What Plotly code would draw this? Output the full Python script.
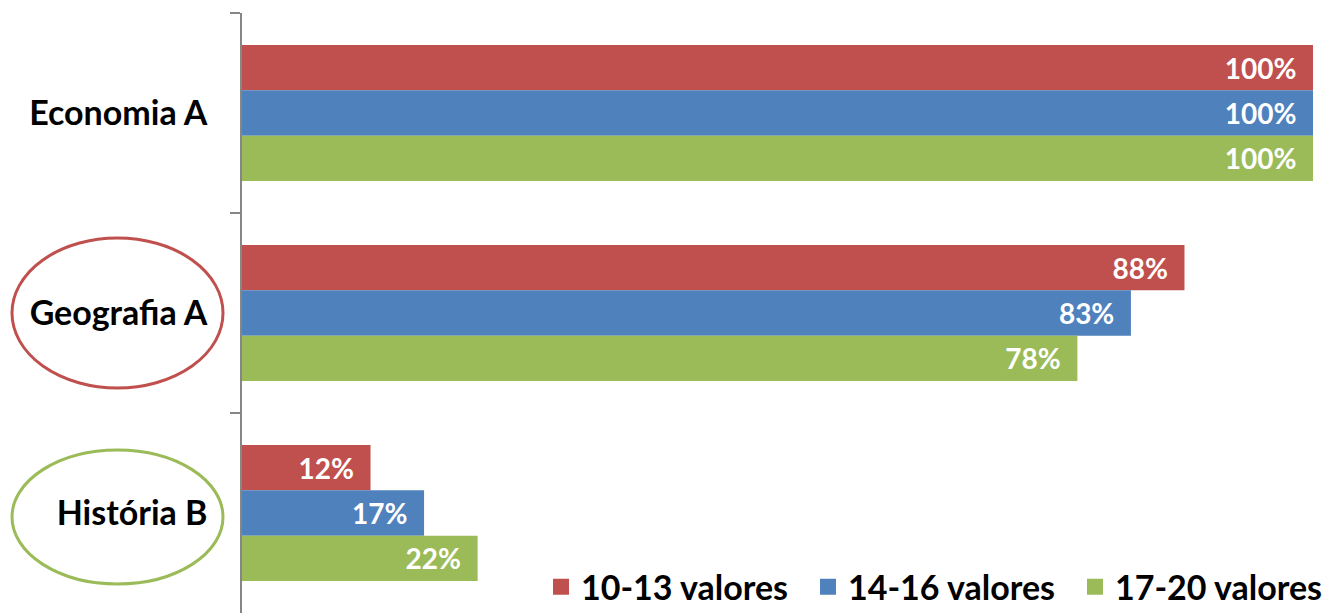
import plotly.graph_objects as go

subjects = ["Economia A", "Geografia A", "História B"]
series_names = ["10-13 valores", "14-16 valores", "17-20 valores"]
vals_10_13 = [100, 88, 12]
vals_14_16 = [100, 83, 17]
vals_17_20 = [100, 78, 22]
colors = ["#C0504D", "#4F81BD", "#9BBB59"]

FONT = "Lato"
W, H = 1322, 613
L, R, T, B = 242, 9, 13, 0

fig = go.Figure()
for name, vals, col in zip(series_names, [vals_10_13, vals_14_16, vals_17_20], colors):
    fig.add_trace(go.Bar(
        y=subjects, x=vals, orientation="h", name=name,
        marker=dict(color=col, line=dict(width=0)),
        texttemplate="%{x}%\u00a0\u00a0", textposition="inside",
        insidetextanchor="end",
        textfont=dict(family=FONT, size=28, color="white", weight="bold"),
        showlegend=False,
    ))
    # legend entry with bigger square
    fig.add_trace(go.Scatter(
        x=[None], y=[subjects[0]], mode="markers", name=name,
        marker=dict(symbol="square", size=20, color=col),
    ))

def px2paper(x0, y0, x1, y1):
    pw, ph = W - L - R, H - T - B
    return dict(x0=(x0 - L) / pw, x1=(x1 - L) / pw,
                y0=(H - B - y1) / ph, y1=(H - B - y0) / ph)

fig.add_shape(type="circle", xref="paper", yref="paper",
              line=dict(color="#C0504D", width=3), **px2paper(12, 238, 223, 388))
fig.add_shape(type="circle", xref="paper", yref="paper",
              line=dict(color="#9BBB59", width=3), **px2paper(12, 450, 223, 584))

fig.update_layout(
    width=W, height=H,
    margin=dict(l=L, r=R, t=T, b=B, autoexpand=False),
    paper_bgcolor="white", plot_bgcolor="white",
    barmode="group", bargap=0.32, bargroupgap=0,
    font=dict(family=FONT, color="black"),
    xaxis=dict(range=[0, 100], visible=False, fixedrange=True),
    yaxis=dict(
        autorange="reversed", showline=True, linecolor="#868686", linewidth=1.5,
        ticks="outside", tickson="boundaries", ticklen=10, tickcolor="#868686",
        tickwidth=1.5, showgrid=False, ticklabelstandoff=26, fixedrange=True,
        tickfont=dict(family=FONT, size=34, color="black", weight="bold"),
    ),
    legend=dict(
        orientation="h", xanchor="left", x=(541 - L) / (W - L - R),
        yanchor="middle", y=0.043, entrywidth=222,
        font=dict(family=FONT, size=34, color="black", weight="bold"),
        bgcolor="rgba(0,0,0,0)", itemwidth=30, traceorder="normal",
    ),
)

fig.write_html("out.html", config={"displayModeBar": False},
               post_script="document.body.style.margin='0';")
